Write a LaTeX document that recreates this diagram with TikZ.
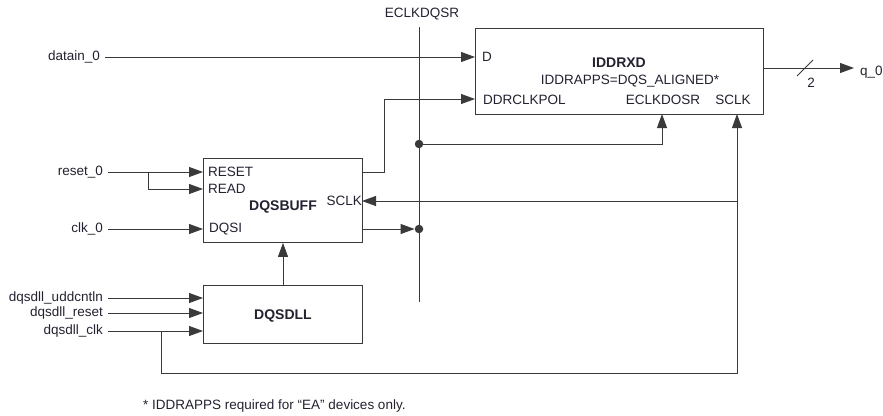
\documentclass[tikz,border=0pt]{standalone}
\usepackage{fontspec}
\setmainfont{Liberation Sans}
\usetikzlibrary{arrows.meta}
\definecolor{wirec}{HTML}{3A3A3A}
\definecolor{txtc}{HTML}{222230}
\begin{document}
\begin{tikzpicture}[x=1pt,y=-1pt,
  wire/.style={draw=wirec, line width=0.9pt},
  arr/.style={wire, -{Triangle[length=14pt,width=10pt]}},
  box/.style={draw=wirec, line width=0.9pt, anchor=north west, inner sep=0pt, fill=white},
  lbl/.style={font=\fontsize{13.5}{15}\selectfont, text=txtc, inner sep=0pt},
  blbl/.style={lbl, font=\fontsize{14}{16}\selectfont\bfseries},
  dot/.style={circle, fill=wirec, minimum size=8.5pt, inner sep=0pt}]
\useasboundingbox (0,0) rectangle (883,415);

% boxes
\node[box, minimum width=288pt, minimum height=86pt] (iddr) at (475,28) {};
\node[box, minimum width=159pt, minimum height=84pt] (buff) at (203,158) {};
\node[box, minimum width=159pt, minimum height=58pt] (dll) at (203,285) {};

% vertical ECLKDQSR line
\node[lbl] (eclk) at (422,14) {ECLKDQSR};
\coordinate (eclkTop) at (419,27);
\coordinate (eclkBot) at (419,302);
\draw[wire] (eclkTop) -- (eclkBot);

% IDDRXD texts
\node[lbl, anchor=west] (pD) at (482,57) {D};
\node[blbl] (tIddr) at (619,63) {IDDRXD};
\node[lbl] (tApps) at (630,81) {IDDRAPPS=DQS\_ALIGNED*};
\node[lbl, anchor=west] (pPol) at (483,100) {DDRCLKPOL};
\node[lbl] (pEclk) at (663,100) {ECLKDOSR};
\node[lbl] (pSclk) at (733,100) {SCLK};

% DQSBUFF texts
\node[lbl, anchor=west] (pReset) at (208,172) {RESET};
\node[lbl, anchor=west] (pRead) at (208,189) {READ};
\node[lbl, anchor=east] (pBSclk) at (362,201) {SCLK};
\node[lbl, anchor=west] (pDqsi) at (209,229) {DQSI};
\node[blbl] (tBuff) at (283,207) {DQSBUFF};

% DQSDLL text
\node[blbl] (tDll) at (283,316) {DQSDLL};

% input labels
\node[lbl, anchor=east] (datain) at (100,57) {datain\_0};
\node[lbl, anchor=east] (reset) at (103,172) {reset\_0};
\node[lbl, anchor=east] (clk) at (103,229) {clk\_0};
\node[lbl, anchor=east] (upd) at (103,298) {dqsdll\_uddcntln};
\node[lbl, anchor=east] (dres) at (103,313) {dqsdll\_reset};
\node[lbl, anchor=east] (dclk) at (103,331) {dqsdll\_clk};
\node[lbl, anchor=west] (q0) at (860,72) {q\_0};
\node[lbl] (two) at (811,83) {2};

% footnote
\node[lbl, anchor=west] (note) at (143,406) {* IDDRAPPS required for “EA” devices only.};

% port coordinates
\coordinate (iD) at (475,57);
\coordinate (iPol) at (475,99);
\coordinate (iEclk) at (662,114);
\coordinate (iSclk) at (737,114);
\coordinate (bReset) at (203,172);
\coordinate (bRead) at (203,189);
\coordinate (bSclk) at (362,201);
\coordinate (bDqsi) at (203,229);
\coordinate (bOut1) at (362,172);
\coordinate (bOut2) at (362,229);
\coordinate (dIn1) at (203,298);
\coordinate (dIn2) at (203,313);
\coordinate (dIn3) at (203,331);
\node[dot] (dotA) at (419,144) {};
\node[dot] (dotB) at (419,229) {};

% connectors
\draw[arr] ([xshift=5pt]datain.east) -- (iD);
\draw[arr] ([xshift=5pt]reset.east) -- (bReset);
\draw[arr] (148,172) |- (bRead);
\draw[arr] ([xshift=5pt]clk.east) -- (bDqsi);
\draw[arr] ([xshift=5pt]upd.east) -- (dIn1);
\draw[arr] ([xshift=5pt]dres.east) -- (dIn2);
\draw[arr] ([xshift=5pt]dclk.east) -- (dIn3);
\draw[arr] (bOut1) -| (384,99) -- (iPol);
\draw[arr] (dotA) -| (iEclk);
\draw[arr] (bOut2) -- (dotB.west);
\draw[arr] (dll.north -| tBuff) -- (buff.south -| tBuff);
\draw[arr] (161,331) |- (737,373) -- (iSclk);
\draw[arr] (737,201) -- (bSclk);
\coordinate (qEnd) at (854,68);
\draw[arr] (763,68) -- (qEnd);
\draw[wire] (797,76) -- (813,60);
\end{tikzpicture}
\end{document}
